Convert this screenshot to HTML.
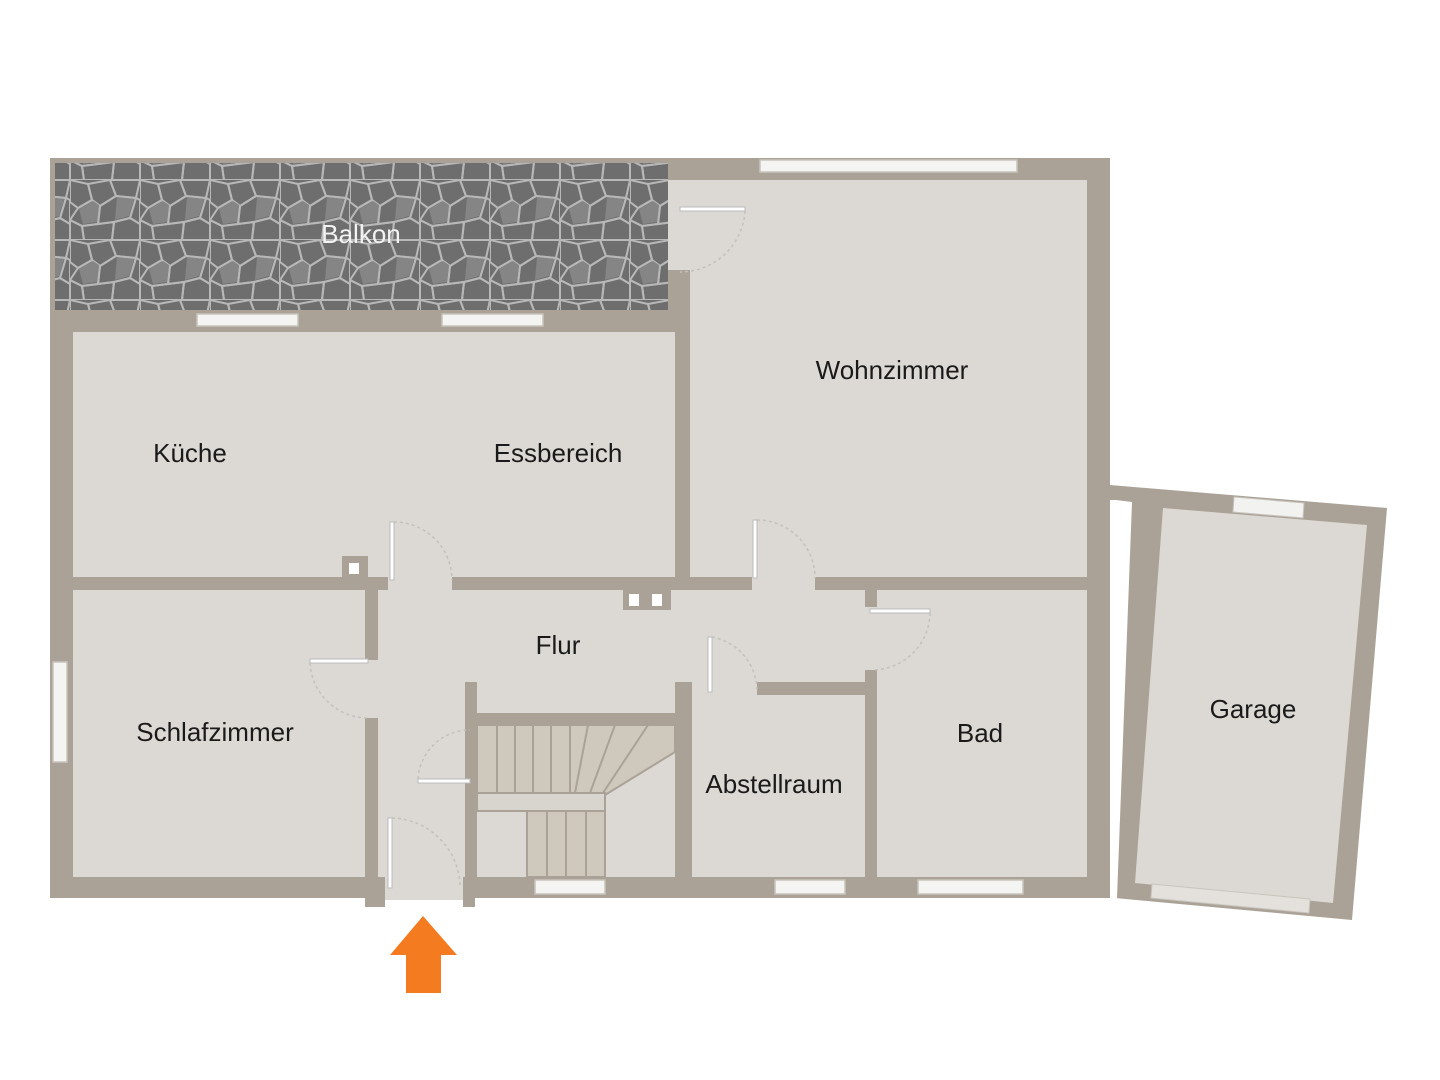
<!DOCTYPE html>
<html><head><meta charset="utf-8"><style>
html,body{margin:0;padding:0;background:#fff;}
svg{display:block}
text{font-family:"Liberation Sans","DejaVu Sans",sans-serif;font-size:26px;fill:#1a1a1a;text-anchor:middle}
</style></head><body>
<svg width="1440" height="1080" viewBox="0 0 1440 1080" xmlns="http://www.w3.org/2000/svg">
<defs>
<pattern id="stone" width="70" height="60" patternUnits="userSpaceOnUse">
<rect width="70" height="60" fill="#6e6e6e"/>
<g fill="none" stroke="#b8b8b8" stroke-width="2">
<polygon points="0,0 18,4 22,20 8,28 0,22"/>
<polygon points="18,4 40,0 46,16 30,26 22,20"/>
<polygon points="40,0 70,0 66,18 46,16"/>
<polygon points="8,28 22,20 30,26 28,44 12,46 0,40"/>
<polygon points="30,26 46,16 66,18 60,38 44,42 28,44"/>
<polygon points="66,18 70,20 70,44 60,38"/>
<polygon points="0,40 12,46 14,60 0,60"/>
<polygon points="12,46 28,44 44,42 42,60 14,60"/>
<polygon points="44,42 60,38 70,44 70,60 42,60"/>
</g>
<g fill="#858585"><polygon points="23,21 29,25 27,42 13,44 9,29"/><polygon points="47,17 64,19 59,36 45,40"/></g>
</pattern>
</defs>

<rect x="50" y="158" width="1060" height="740" fill="#aaa297"/>
<rect x="55" y="163" width="613" height="147" fill="url(#stone)"/>
<rect x="73" y="332" width="602" height="245" fill="#dcd9d4"/>
<rect x="690" y="180" width="397" height="397" fill="#dcd9d4"/>
<rect x="73" y="590" width="292" height="287" fill="#dcd9d4"/>
<rect x="378" y="590" width="487" height="92" fill="#dcd9d4"/>
<rect x="378" y="590" width="87" height="308" fill="#dcd9d4"/>
<rect x="477" y="682" width="198" height="31" fill="#dcd9d4"/>
<rect x="692" y="682" width="65" height="13" fill="#dcd9d4"/>
<rect x="692" y="695" width="173" height="182" fill="#dcd9d4"/>
<rect x="877" y="590" width="210" height="287" fill="#dcd9d4"/>
<rect x="477" y="725" width="198" height="152" fill="#dcd9d4"/>
<rect x="388" y="575" width="64" height="16" fill="#dcd9d4"/>
<rect x="752" y="575" width="63" height="16" fill="#dcd9d4"/>
<rect x="363" y="660" width="17" height="58" fill="#dcd9d4"/>
<rect x="863" y="607" width="16" height="63" fill="#dcd9d4"/>
<rect x="668" y="180" width="24" height="90" fill="#dcd9d4"/>
<rect x="342" y="556" width="26" height="22" fill="#aaa297"/><rect x="349" y="563" width="10" height="11" fill="#fff"/>
<rect x="623" y="588" width="48" height="22" fill="#aaa297"/><rect x="629" y="594" width="10" height="12" fill="#fff"/><rect x="652" y="594" width="10" height="12" fill="#fff"/>
<rect x="465" y="682" width="12" height="43" fill="#aaa297"/>
<rect x="465" y="713" width="225" height="12" fill="#aaa297"/>
<g fill="#cfc8bc" stroke="#aaa297" stroke-width="2">
<polygon points="477,725 675,725 675,752 605,795 477,795"/>
<rect x="527" y="810" width="78" height="67"/>
</g>
<rect x="477" y="793" width="128" height="18" fill="#d8d4ce" stroke="#aaa297" stroke-width="2"/>
<g stroke="#aaa297" stroke-width="2">
<line x1="497" y1="725" x2="497" y2="793"/><line x1="515" y1="725" x2="515" y2="793"/><line x1="533" y1="725" x2="533" y2="793"/><line x1="551" y1="725" x2="551" y2="793"/><line x1="570" y1="725" x2="570" y2="793"/><line x1="588" y1="725" x2="575" y2="793"/><line x1="615" y1="725" x2="590" y2="793"/><line x1="648" y1="725" x2="603" y2="793"/>
<line x1="547" y1="810" x2="547" y2="877"/><line x1="566" y1="810" x2="566" y2="877"/><line x1="586" y1="810" x2="586" y2="877"/>
</g>
<rect x="465" y="785" width="12" height="16" fill="#aaa297"/>
<rect x="385" y="875" width="78" height="25" fill="#dcd9d4"/>
<rect x="365" y="877" width="20" height="30" fill="#aaa297"/>
<rect x="463" y="877" width="12" height="30" fill="#aaa297"/>
<g fill="#f4f4f2" stroke="#c8c4bd" stroke-width="1.5">
<rect x="760" y="160" width="257" height="12"/>
<rect x="197" y="314" width="101" height="12"/>
<rect x="442" y="314" width="101" height="12"/>
<rect x="53" y="662" width="14" height="100"/>
<rect x="535" y="880" width="70" height="14"/>
<rect x="775" y="880" width="70" height="14"/>
<rect x="918" y="880" width="105" height="14"/>
</g>
<g fill="#fff" stroke="#bbb" stroke-width="1">
<rect x="390" y="522" width="4" height="58"/>
<rect x="753" y="520" width="4" height="58"/>
<rect x="310" y="659" width="58" height="4"/>
<rect x="870" y="609" width="60" height="4"/>
<rect x="708" y="637" width="4" height="55"/>
<rect x="418" y="779" width="52" height="4"/>
<rect x="388" y="818" width="4" height="70"/>
<rect x="680" y="207" width="65" height="4"/>
</g>
<g fill="none" stroke="#c4c0ba" stroke-width="1.5" stroke-dasharray="3,3">
<path d="M394,522 A58,58 0 0 1 452,580"/>
<path d="M757,520 A58,58 0 0 1 815,578"/>
<path d="M310,663 A58,58 0 0 0 368,718"/>
<path d="M930,613 A58,58 0 0 1 872,670"/>
<path d="M712,637 A55,55 0 0 1 757,690"/>
<path d="M418,779 A52,52 0 0 1 470,730"/>
<path d="M392,818 A70,70 0 0 1 460,885"/>
<path d="M745,211 A65,65 0 0 1 680,272"/>
</g>
<polygon points="1110,485 1387,508 1352,920 1115,898 1110,898" fill="#aaa297"/>
<rect x="1110" y="500" width="6" height="398" fill="#fff"/>
<polygon points="1116,500 1132,502 1117,898 1116,898" fill="#fff"/>
<polygon points="1163,508 1367,525 1333,903 1135,883" fill="#dcd9d4"/>
<polygon points="1234,497 1304,503 1303,518 1233,512" fill="#f2f2f0" stroke="#c8c4bd"/>
<polygon points="1152,884 1310,899 1309,913 1151,898" fill="#e4e1dc" stroke="#c8c4bd"/>
<text x="361" y="243" style="fill:#f2f2f2">Balkon</text>
<text x="892" y="379">Wohnzimmer</text>
<text x="190" y="462">Küche</text>
<text x="558" y="462">Essbereich</text>
<text x="558" y="654">Flur</text>
<text x="215" y="741">Schlafzimmer</text>
<text x="774" y="793">Abstellraum</text>
<text x="980" y="742">Bad</text>
<text x="1253" y="718">Garage</text>
<polygon points="423,916 457,955 441,955 441,993 406,993 406,955 390,955" fill="#f47b20"/>
</svg>
</body></html>
